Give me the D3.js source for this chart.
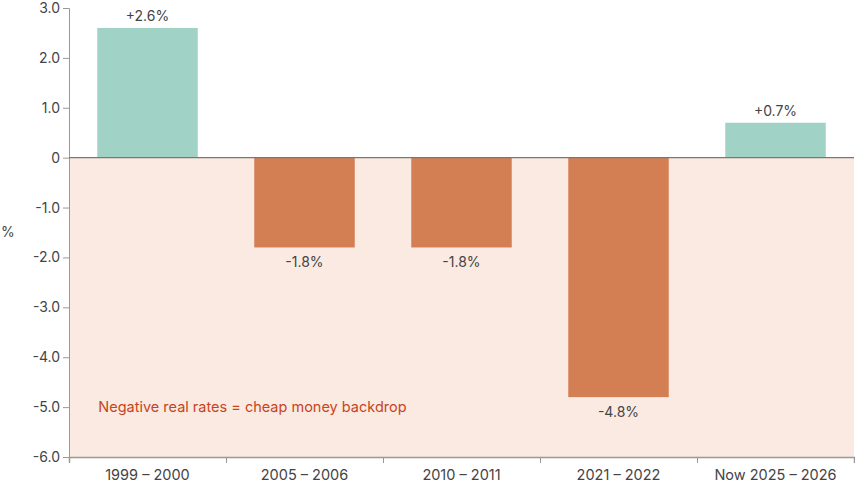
<!DOCTYPE html>
<html>
<head>
<meta charset="utf-8">
<script src="https://cdn.jsdelivr.net/npm/d3@7"></script>
<style>
  body { margin: 0; background: #fff; }
  text { font-family: Inter, "Noto Sans", sans-serif; }
</style>
</head>
<body>
<script>
var categories = ['1999 – 2000', '2005 – 2006', '2010 – 2011', '2021 – 2022', 'Now 2025 – 2026'];
var values = [2.6, -1.8, -1.8, -4.8, 0.7];
var valueLabels = ['+2.6%', '-1.8%', '-1.8%', '-4.8%', '+0.7%'];
var yTicks = [3, 2, 1, 0, -1, -2, -3, -4, -5, -6];
var note = 'Negative real rates = cheap money backdrop';

var width = 855, height = 487;
var margin = {top: 8, right: 1, bottom: 30, left: 69};

var svg = d3.select('body').append('svg').attr('width', width).attr('height', height);

var x = d3.scaleBand()
    .domain(categories)
    .range([margin.left, width - margin.right])
    .paddingInner(0.36)
    .paddingOuter(0.18);

var y = d3.scaleLinear()
    .domain([-6, 3])
    .range([height - margin.bottom, margin.top]);

// negative zone shading
svg.append('rect')
    .attr('x', margin.left)
    .attr('y', y(0))
    .attr('width', width - margin.right - margin.left)
    .attr('height', y(-6) - y(0))
    .attr('fill', '#faeae1');

svg.append('text')
    .attr('x', x(categories[0]) + 1)
    .attr('y', y(-5))
    .attr('dy', '0.35em')
    .attr('fill', '#c8441c')
    .attr('font-size', 14.5)
    .text(note);

svg.selectAll('rect.bar')
    .data(values)
    .enter()
    .append('rect')
    .attr('class', 'bar')
    .attr('x', function(d, i) { return x(categories[i]); })
    .attr('width', x.bandwidth())
    .attr('y', function(d) { return y(Math.max(0, d)); })
    .attr('height', function(d) { return Math.abs(y(d) - y(0)); })
    .attr('fill', function(d) { return d >= 0 ? '#a0d3c6' : '#d47e54'; });

svg.selectAll('text.vlabel')
    .data(values)
    .enter()
    .append('text')
    .attr('class', 'vlabel')
    .attr('x', function(d, i) { return x(categories[i]) + x.bandwidth() / 2; })
    .attr('y', function(d) { return d >= 0 ? y(d) - 7 : y(d) + 20; })
    .attr('text-anchor', 'middle')
    .attr('fill', '#444')
    .attr('font-size', 14)
    .text(function(d, i) { return valueLabels[i]; });

// y axis
var yAxis = svg.append('g')
    .attr('transform', 'translate(' + margin.left + ',0)')
    .call(d3.axisLeft(y).tickValues(yTicks).tickSize(6).tickPadding(3)
        .tickFormat(function(d) { return d === 0 ? '0' : d.toFixed(1); }));
yAxis.select('.domain').attr('stroke', '#999');
yAxis.selectAll('.tick line').attr('stroke', '#999');
yAxis.selectAll('.tick text').attr('fill', '#444').attr('font-size', 14)
    .style('font-family', 'Inter, "Noto Sans", sans-serif');

// x axis
var xEdges = d3.scalePoint()
    .domain(d3.range(categories.length + 1))
    .range([margin.left, width - margin.right]);
var xAxis = svg.append('g')
    .attr('transform', 'translate(0,' + y(-6) + ')')
    .call(d3.axisBottom(xEdges).tickSize(6).tickFormat(''));
xAxis.select('.domain').attr('stroke', '#999').attr('stroke-width', 1.5);
xAxis.selectAll('.tick line').attr('stroke', '#999');

svg.selectAll('text.xlabel')
    .data(categories)
    .enter()
    .append('text')
    .attr('class', 'xlabel')
    .attr('x', function(d) { return x(d) + x.bandwidth() / 2; })
    .attr('y', y(-6) + 23)
    .attr('text-anchor', 'middle')
    .attr('fill', '#444')
    .attr('font-size', 14.5)
    .text(function(d) { return d; });

// zero line
svg.append('line')
    .attr('x1', margin.left)
    .attr('x2', width - margin.right)
    .attr('y1', y(0))
    .attr('y2', y(0))
    .attr('stroke', '#777')
    .attr('stroke-width', 1.2);

svg.append('text')
    .attr('x', 1)
    .attr('y', (y(3) + y(-6)) / 2)
    .attr('dy', '0.35em')
    .attr('fill', '#444')
    .attr('font-size', 14)
    .text('%');
</script>
</body>
</html>
